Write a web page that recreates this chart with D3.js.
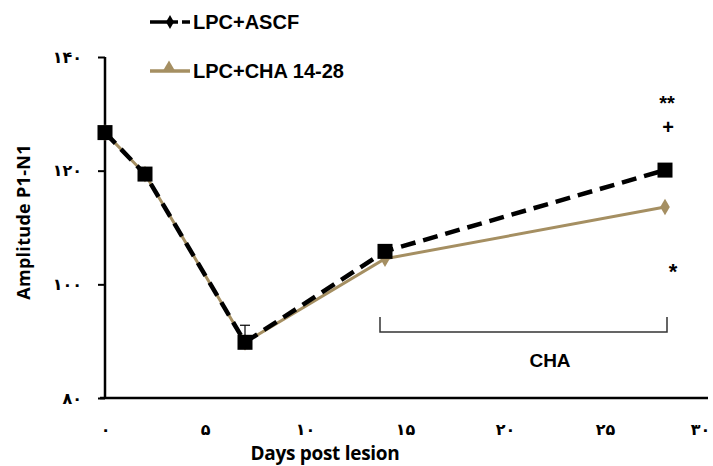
<!DOCTYPE html>
<html><head><meta charset="utf-8">
<script src="https://cdn.jsdelivr.net/npm/d3@7"></script>
<style>body{margin:0;background:#fff}svg{display:block}</style>
</head><body>
<svg id="c" width="713" height="466"></svg>
<script>
const days = [0, 2, 7, 14, 28];
const ascf = [126.7, 119.4, 89.8, 105.8, 120.1];
const cha = [126.7, 119.4, 89.8, 104.5, 113.6];
const errTop = [null, null, 92.8, null, null];
const xTicks = [0, 5, 10, 15, 20, 25, 30];
const xTickLabels = ["۰", "۵", "۱۰", "۱۵", "۲۰", "۲۵", "۳۰"];
const yTicks = [80, 100, 120, 140];
const yTickLabels = ["۸۰", "۱۰۰", "۱۲۰", "۱۴۰"];
const seriesNames = ["LPC+ASCF", "LPC+CHA 14-28"];
const tan = "#a58f62";

const svg = d3.select("#c");
const x = d3.scaleLinear().domain([0, 30]).range([105, 705]);
const y = d3.scaleLinear().domain([80, 140]).range([398, 57]);

// axes
const xAxis = svg.append("g").attr("transform", "translate(0,398)")
  .call(d3.axisBottom(x).tickValues(xTicks).tickSize(0).tickPadding(26)
    .tickFormat((d, i) => xTickLabels[i]));
xAxis.select(".domain").attr("d", "M100,0H708").attr("stroke", "#000").attr("stroke-width", 2.5);
xAxis.selectAll("text").attr("font-family", "DejaVu Sans").attr("font-weight", "bold").attr("font-size", 16).attr("fill", "#000")
  .attr("dx", d => d === 30 ? -5 : 0);

const yAxis = svg.append("g").attr("transform", "translate(105,0)")
  .call(d3.axisLeft(y).tickValues(yTicks).tickSize(7).tickPadding(16)
    .tickFormat((d, i) => yTickLabels[i]));
yAxis.select(".domain").attr("d", "M0,57V398").attr("stroke", "#000").attr("stroke-width", 2.5);
yAxis.selectAll(".tick line").attr("stroke", "#000").attr("stroke-width", 2);
yAxis.selectAll("text").attr("font-family", "DejaVu Sans").attr("font-weight", "bold").attr("font-size", 16).attr("fill", "#000");

// axis titles
svg.append("text").attr("transform", "translate(30,222) rotate(-90)").attr("text-anchor", "middle")
  .attr("font-family", "Open Sans").attr("font-weight", "bold").attr("font-size", 18).attr("letter-spacing", 0.3).text("Amplitude P1-N1");
svg.append("text").attr("x", 325).attr("y", 460).attr("text-anchor", "middle")
  .attr("font-family", "Open Sans").attr("font-weight", "bold").attr("font-size", 19).attr("letter-spacing", -0.3).text("Days post lesion");

const line = d3.line().x((d, i) => x(days[i])).y(d => y(d));

// CHA series
svg.append("path").datum(cha).attr("d", line).attr("fill", "none").attr("stroke", tan).attr("stroke-width", 3);
svg.selectAll(".chaPt").data(cha).enter().append("path")
  .attr("transform", (d, i) => `translate(${x(days[i])},${y(d)})`)
  .attr("d", d3.symbol(d3.symbolDiamond, 80)).attr("fill", tan);

// ASCF series
svg.append("path").datum(ascf).attr("d", line).attr("fill", "none").attr("stroke", "#000")
  .attr("stroke-width", 4.5).attr("stroke-dasharray", "15,8");
// error bar
errTop.forEach((e, i) => {
  if (e == null) return;
  svg.append("line").attr("x1", x(days[i])).attr("x2", x(days[i])).attr("y1", y(ascf[i])).attr("y2", y(e)).attr("stroke", "#000").attr("stroke-width", 1.2);
  svg.append("line").attr("x1", x(days[i]) - 5).attr("x2", x(days[i]) + 5).attr("y1", y(e)).attr("y2", y(e)).attr("stroke", "#000").attr("stroke-width", 1.2);
});
svg.selectAll(".ascfPt").data(ascf).enter().append("rect")
  .attr("x", (d, i) => x(days[i]) - 7.5).attr("y", d => y(d) - 7.5).attr("width", 15).attr("height", 15).attr("fill", "#000");

// annotations
const lastX = x(days[4]);
svg.append("text").attr("x", lastX + 2).attr("y", 110).attr("text-anchor", "middle").attr("font-family", "Liberation Sans").attr("font-weight", "bold").attr("font-size", 20).text("**");
svg.append("text").attr("x", lastX + 3).attr("y", 134).attr("text-anchor", "middle").attr("font-family", "Liberation Sans").attr("font-weight", "bold").attr("font-size", 20).text("+");
svg.append("text").attr("x", lastX + 8).attr("y", 279).attr("text-anchor", "middle").attr("font-family", "Liberation Sans").attr("font-weight", "bold").attr("font-size", 22).text("*");

// CHA bracket
svg.append("path").attr("d", `M${x(14) - 5},317V332H${lastX + 2}V317`).attr("fill", "none").attr("stroke", "#333").attr("stroke-width", 1.5);
svg.append("text").attr("x", 550).attr("y", 367).attr("text-anchor", "middle").attr("font-family", "Liberation Sans").attr("font-weight", "bold").attr("font-size", 19).text("CHA");

// legend
const lg = svg.append("g");
lg.append("line").attr("x1", 150).attr("x2", 178).attr("y1", 22).attr("y2", 22).attr("stroke", "#000").attr("stroke-width", 3.5);
lg.append("line").attr("x1", 182).attr("x2", 190).attr("y1", 22).attr("y2", 22).attr("stroke", "#000").attr("stroke-width", 3.5);
lg.append("path").attr("transform", "translate(170,22)").attr("d", d3.symbol(d3.symbolDiamond, 55)).attr("fill", "#000");
lg.append("text").attr("x", 193).attr("y", 29).attr("font-family", "Liberation Sans").attr("font-weight", "bold").attr("font-size", 20).text(seriesNames[0]);
lg.append("line").attr("x1", 150).attr("x2", 190).attr("y1", 71).attr("y2", 71).attr("stroke", tan).attr("stroke-width", 3.5);
lg.append("path").attr("transform", "translate(169,68)").attr("d", d3.symbol(d3.symbolTriangle, 75)).attr("fill", tan);
lg.append("text").attr("x", 193).attr("y", 78).attr("font-family", "Liberation Sans").attr("font-weight", "bold").attr("font-size", 20).text(seriesNames[1]);
</script>
</body></html>
